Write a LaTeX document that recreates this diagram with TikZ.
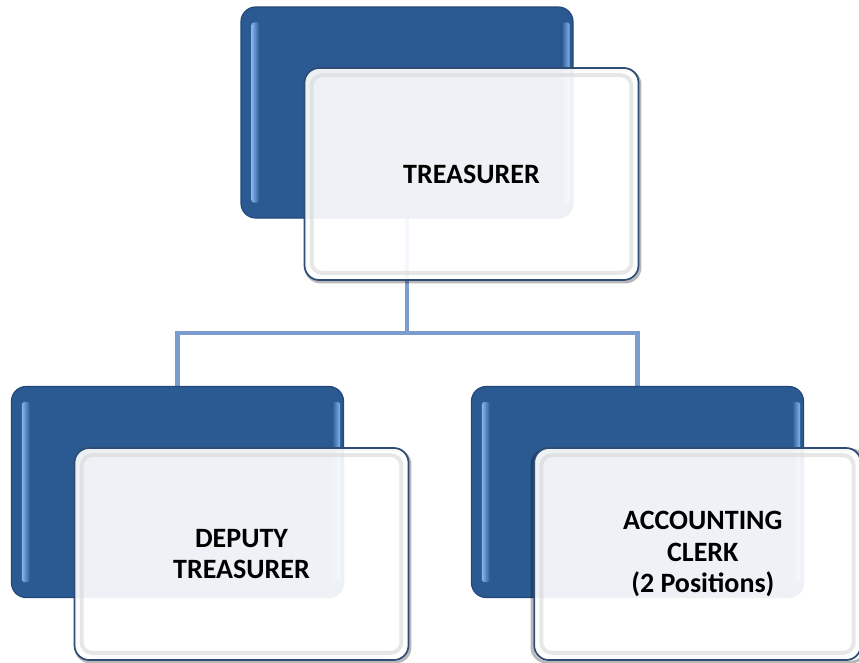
\documentclass[tikz,border=0pt]{standalone}
\usepackage{fontspec}
\setmainfont{Carlito}
\usetikzlibrary{backgrounds,calc}
\definecolor{boxblue}{HTML}{2B5A92}
\definecolor{boxblueedge}{HTML}{22487A}
\definecolor{hilite}{HTML}{86B4EE}
\definecolor{connblue}{HTML}{7B9CCF}
\definecolor{wedge}{HTML}{2E4C74}
\definecolor{bevelgray}{HTML}{D4D4D4}
\tikzset{
  bluebox/.style={rectangle, rounded corners=11pt, minimum width=249pt, minimum height=158.25pt,
    fill=boxblue, draw=boxblueedge, line width=0.9pt, inner sep=0pt},
  shadowbox/.style={rectangle, rounded corners=11pt, minimum width=250.5pt, minimum height=159pt,
    draw=black, draw opacity=0.28, line width=2.2pt, inner sep=0pt},
  whitebox/.style={rectangle, rounded corners=11pt, minimum width=250.5pt, minimum height=159pt,
    fill=white, fill opacity=0.92, text opacity=1, draw=wedge, line width=1.3pt,
    align=center, font=\bfseries\fontsize{21}{23.5}\selectfont, inner sep=0pt},
  bevel/.style={draw=bevelgray, line width=3pt, rounded corners=8pt, draw opacity=0.55},
  hl/.style={rounded corners=2pt},
  conn/.style={draw=connblue, line width=3.2pt},
}
\begin{document}
\begin{tikzpicture}[x=0.75pt, y=-0.75pt]
\useasboundingbox (0,0) rectangle (859,662);
\clip (0,0) rectangle (859,662);

% ---- top unit
\node[bluebox] (tb) at (407,112.5) {};
\shade[hl, left color=hilite, right color=boxblue] ($(tb.north west)+(11,16)$) rectangle ($(tb.south west)+(19,-16)$);
\shade[hl, left color=boxblue, right color=hilite] ($(tb.north east)+(-12,16)$) rectangle ($(tb.south east)+(-4,-16)$);
\node[shadowbox] (tws) at (473,176) {};
\node[whitebox] (tw) at (471.5,174) {TREASURER};
\draw[bevel] ($(tw.north west)+(8,8)$) rectangle ($(tw.south east)+(-8,-8)$);

% ---- left unit
\node[bluebox] (lb) at (177.5,492) {};
\shade[hl, left color=hilite, right color=boxblue] ($(lb.north west)+(11,16)$) rectangle ($(lb.south west)+(19,-16)$);
\shade[hl, left color=boxblue, right color=hilite] ($(lb.north east)+(-12,16)$) rectangle ($(lb.south east)+(-4,-16)$);
\node[shadowbox] (lws) at (243,556) {};
\node[whitebox] (lw) at (241.5,554) {DEPUTY\\TREASURER};
\draw[bevel] ($(lw.north west)+(8,8)$) rectangle ($(lw.south east)+(-8,-8)$);

% ---- right unit
\node[bluebox] (rb) at (637.5,492) {};
\shade[hl, left color=hilite, right color=boxblue] ($(rb.north west)+(11,16)$) rectangle ($(rb.south west)+(19,-16)$);
\shade[hl, left color=boxblue, right color=hilite] ($(rb.north east)+(-12,16)$) rectangle ($(rb.south east)+(-4,-16)$);
\node[shadowbox] (rws) at (699,556) {};
\node[whitebox, minimum width=245pt] (rw) at (697.5,554) {\hspace*{8pt}ACCOUNTING\\\hspace*{8pt}CLERK\\\hspace*{8pt}(2 Positions)};
\draw[bevel] ($(rw.north west)+(8,8)$) rectangle ($(rw.south east)+(-8,-8)$);

% ---- connectors
\begin{scope}[on background layer]
\coordinate (hub) at (407,333);
\draw[conn] (tb.center) -- (hub);
\draw[conn] (lb.center) |- (hub) -| (rb.center);
\end{scope}
\end{tikzpicture}
\end{document}
